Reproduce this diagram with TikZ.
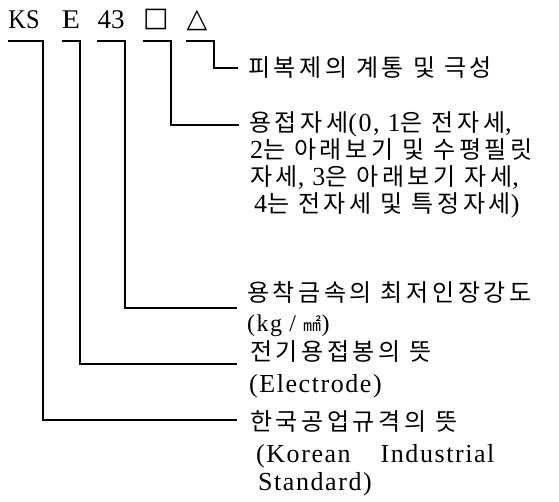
\documentclass[tikz,border=0pt]{standalone}
\usepackage{fontspec}
\setmainfont{Liberation Serif}[LetterSpace=6]
\newfontfamily\codef{Liberation Serif}
\newfontfamily\krf[LetterSpace=15]{Noto Sans CJK KR}
\newfontfamily\krplain{Noto Sans CJK KR}
\newfontfamily\symf{DejaVu Sans}
\newcommand\K[1]{{\krf\fontsize{24}{27}\selectfont #1}}
\tikzset{
  code/.style={inner sep=0pt, font=\codef\fontsize{27}{30}\selectfont},
  desc/.style={inner sep=0pt, anchor=base west, font=\fontsize{26}{29}\selectfont},
  link/.style={line width=1.4pt, line join=miter, draw=black}
}
\begin{document}
\begin{tikzpicture}[x=1pt,y=-1pt]
\useasboundingbox (0,0) rectangle (559,501);
% code parts
\node[code] (ks)  at (24,20)  {\scalebox{0.9}[1]{KS}};
\node[code] (el)  at (71,20)  {\scalebox{1.1}[1]{E}};
\node[code] (num) at (111,20) {43};
\node[code] (sq)  at (156,19) {\symf □};
\node[code] (tri) at (197,20) {\symf △};
% descriptions
\node[desc] (d5)  at (248,76)  {\K{피복제의 계통 및 극성}};
\node[desc] (d4a) at (249,131) {\K{용접자세}(0, 1\K{은 전자세},};
\node[desc] (d4b) at (250,158) {2\K{는 아래보기 및 수평필릿}};
\node[desc] (d4c) at (250,185) {\K{자세}, 3\K{은 아래보기 자세},};
\node[desc] (d4d) at (254,212) {4\K{는 전자세 및 특정자세})};
\node[desc] (d3a) at (247,301) {\K{용착금속의 최저인장강도}};
\node[desc, font=\fontsize{24}{27}\selectfont] (d3b) at (247,331) {(kg / {\krplain\fontsize{18}{20}\selectfont ㎟})};
\node[desc] (d2a) at (250,360) {\K{전기용접봉의 뜻}};
\node[desc] (d2b) at (249,392) {(Electrode)};
\node[desc] (d1a) at (250,430) {\K{한국공업규격의 뜻}};
\node[desc] (d1b) at (256,462) {(Korean\hspace{30pt}Industrial};
\node[desc] (d1c) at (258,490) {Standard)};
% bends and ends
\coordinate (k1) at (43,41);   \coordinate (e1) at (237,420);
\coordinate (k2) at (80,41);   \coordinate (e2) at (237,364);
\coordinate (k3) at (125,41);  \coordinate (e3) at (237,308);
\coordinate (k4) at (171,41);  \coordinate (e4) at (239,125);
\coordinate (k5) at (214,41);  \coordinate (e5) at (238,68);
\draw[link] (ks.west |- k1) -- (k1) |- (e1);
\draw[link] (el.west |- k2) -- (k2) |- (e2);
\draw[link] (num.west |- k3) -- (k3) |- (e3);
\draw[link] (sq.west |- k4) -- (k4) |- (e4);
\draw[link] (tri.west |- k5) -- (k5) |- (e5);
\end{tikzpicture}
\end{document}
